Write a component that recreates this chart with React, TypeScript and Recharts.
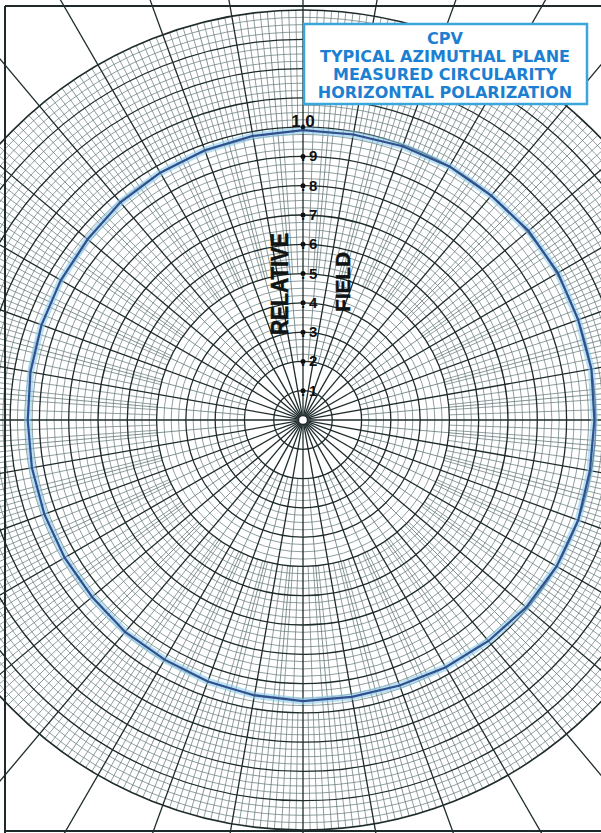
import { RadarChart, Radar, PolarAngleAxis, PolarRadiusAxis, Customized } from 'recharts';

// bearing of each reading, degrees clockwise from the top of the sheet
const bearings = [
  0, 10, 20, 30, 40, 50, 60, 70, 80, 90, 100, 110, 120, 130, 140, 150, 160, 170,
  180, 190, 200, 210, 220, 230, 240, 250, 260, 270, 280, 290, 300, 310, 320, 330, 340, 350,
];
// measured relative field (horizontal polarization)
const fieldValues = [
  0.99, 0.99, 0.995, 1.0, 1.0, 1.005, 1.005, 1.0, 1.0, 0.995, 0.995, 1.0, 1.0, 0.995, 0.985, 0.975, 0.965, 0.96,
  0.96, 0.955, 0.95, 0.945, 0.945, 0.94, 0.94, 0.94, 0.94, 0.94, 0.945, 0.95, 0.955, 0.96, 0.97, 0.975, 0.98, 0.985,
];
const radiusTicks = [0.1, 0.2, 0.3, 0.4, 0.5, 0.6, 0.7, 0.8, 0.9, 1.0];
const tickLabels = ['.1', '.2', '.3', '.4', '.5', '.6', '.7', '.8', '.9', '1.0'];
const titleLines = ['CPV', 'TYPICAL AZIMUTHAL PLANE', 'MEASURED CIRCULARITY', 'HORIZONTAL POLARIZATION'];

const data = bearings.map((b, i) => ({ bearing: b, field: fieldValues[i] }));

const W = 601;
const H = 833;
const CX = 303;
const CY = 420;
const R_OUT = 410;
const R_MAX = 1.4;

const DARK = '#1f2b2b';
const MINOR = '#6c7e7f';

// the printed polar chart paper behind the trace
function PolarPaper() {
  const rad = (v: number) => (v / R_MAX) * R_OUT;
  const pt = (deg: number, r: number) => {
    const a = (deg * Math.PI) / 180;
    return { x: CX + r * Math.sin(a), y: CY - r * Math.cos(a) };
  };
  const spoke = (deg: number, r0: number, r1: number, stroke: string, w: number, key: string) => {
    const a = pt(deg, r0);
    const b = pt(deg, r1);
    return <line key={key} x1={a.x} y1={a.y} x2={b.x} y2={b.y} stroke={stroke} strokeWidth={w} />;
  };

  const minorRings = [];
  for (let k = 8; k <= 56; k++) {
    if (k % 4 === 0) continue;
    minorRings.push(
      <circle key={`mr${k}`} cx={CX} cy={CY} r={rad(k * 0.025)} fill="none" stroke={MINOR} strokeWidth={0.75} />
    );
  }
  const majorRings = [];
  for (let k = 1; k <= 14; k++) {
    majorRings.push(
      <circle key={`MR${k}`} cx={CX} cy={CY} r={rad(k * 0.1)} fill="none" stroke={DARK} strokeWidth={k === 14 ? 1.6 : 1.3} />
    );
  }
  const spokes = [];
  for (let d = 0; d < 360; d++) {
    if (d % 10 === 0) continue;
    if (d % 5 === 0) spokes.push(spoke(d, rad(0.2), rad(1.4), MINOR, 0.85, `s5-${d}`));
    else if (d % 2 === 0) spokes.push(spoke(d, rad(0.5), rad(1.4), MINOR, 0.75, `s2-${d}`));
    else spokes.push(spoke(d, rad(1.0), rad(1.4), MINOR, 0.75, `s1-${d}`));
  }
  const majorSpokes = [];
  for (let d = 0; d < 360; d += 10) majorSpokes.push(spoke(d, 4.5, 900, DARK, 1.3, `S${d}`));

  return (
    <g>
      <rect x={0} y={0} width={W} height={H} fill="#ffffff" />
      {minorRings}
      {spokes}
      {majorRings}
      {majorSpokes}
      <circle cx={CX} cy={CY} r={4.5} fill="#ffffff" stroke={DARK} strokeWidth={1.3} />
      <line x1={5} y1={6} x2={5} y2={833} stroke={DARK} strokeWidth={2} />
      <line x1={5} y1={6} x2={601} y2={6} stroke={DARK} strokeWidth={2} />
      <line x1={5} y1={831} x2={601} y2={831} stroke={DARK} strokeWidth={2} />
    </g>
  );
}

function Annotations() {
  return (
    <g fontFamily="Liberation Sans, Arial, sans-serif" fontWeight="bold">
      <text
        x={280}
        y={284}
        transform="rotate(-90 280 284)"
        textAnchor="middle"
        dominantBaseline="central"
        fontSize={23}
        textLength={102}
        lengthAdjust="spacingAndGlyphs"
        fill="#101414"
        stroke="#101414"
        strokeWidth={0.6}
      >
        RELATIVE
      </text>
      <text
        x={343}
        y={282}
        transform="rotate(-90 343 282)"
        textAnchor="middle"
        dominantBaseline="central"
        fontSize={20}
        textLength={60}
        lengthAdjust="spacingAndGlyphs"
        fill="#101414"
        stroke="#101414"
        strokeWidth={0.5}
      >
        FIELD
      </text>
      <rect x={304} y={24} width={283} height={80} fill="#ffffff" stroke="#3aa6dc" strokeWidth={2.5} />
      {titleLines.map((line, i) => (
        <text
          key={line}
          x={445}
          y={44 + i * 18}
          textAnchor="middle"
          fontSize={16}
          fill="#1c7fd2"
          fontFamily="DejaVu Sans, sans-serif"
        >
          {line}
        </text>
      ))}
      <text x={CX} y={127} textAnchor="middle" fontSize={17} fill="#111">
        {tickLabels[tickLabels.length - 1]}
      </text>
    </g>
  );
}

const renderTick = (props: any) => {
  const { x, y, payload } = props;
  const idx = radiusTicks.findIndex((t) => Math.abs(t - payload.value) < 1e-6);
  if (idx < 0) return <g />;
  const label = tickLabels[idx];
  if (label === '1.0') {
    // the 1.0 label itself is written above the trace in Annotations
    return <circle cx={x} cy={y} r={2.2} fill="#111" />;
  }
  return (
    <g>
      <circle cx={x} cy={y} r={2.5} fill="#111" />
      <text y={y + 5} fontSize={15} fontWeight="bold" fill="#111" fontFamily="Liberation Sans, Arial, sans-serif">
        <tspan x={x - 2}>.</tspan>
        <tspan x={x + 6}>{label.slice(1)}</tspan>
      </text>
    </g>
  );
};

export default function App() {
  return (
    <div style={{ position: 'absolute', left: 0, top: 0, width: W, height: H, background: '#fff' }}>
      <RadarChart
        width={W}
        height={H}
        data={data}
        cx={CX}
        cy={CY}
        outerRadius={R_OUT}
        margin={{ top: 0, right: 0, bottom: 0, left: 0 }}
      >
        <Customized component={PolarPaper} />
        <PolarAngleAxis dataKey="bearing" tick={false} axisLine={false} />
        <PolarRadiusAxis
          angle={90}
          type="number"
          domain={[0, R_MAX]}
          ticks={radiusTicks}
          tick={renderTick}
          axisLine={false}
          tickLine={false}
        />
        <Radar
          dataKey="field"
          stroke="#8ccbe8"
          strokeWidth={7}
          strokeOpacity={0.6}
          fill="none"
          fillOpacity={0}
          dot={false}
          isAnimationActive={false}
        />
        <Radar
          dataKey="field"
          stroke="#2f4f8f"
          strokeWidth={2.2}
          fill="none"
          fillOpacity={0}
          dot={false}
          isAnimationActive={false}
        />
        <Customized component={Annotations} />
      </RadarChart>
    </div>
  );
}
